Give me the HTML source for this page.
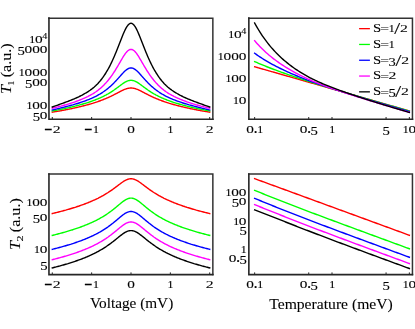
<!DOCTYPE html>
<html><head><meta charset="utf-8"><title>T1 T2</title>
<style>html,body{margin:0;padding:0;background:#fff;}svg{display:block;}</style></head>
<body>
<svg width="415" height="329" viewBox="0 0 415 329">
<rect width="415" height="329" fill="#fff"/>
<g font-family="Liberation Serif, serif" fill="#000" stroke="#000" stroke-width="0.1" opacity="0.999">
<text transform="matrix(1.1605 0 0 1.8071 44.33 136.66)" font-size="12.5">−</text><text transform="matrix(1.2597 0 0 0.8307 52.73 132.50)" font-size="12.5">2</text>
<text transform="matrix(1.1605 0 0 1.8071 84.37 136.66)" font-size="12.5">−</text><text transform="matrix(1.0226 0 0 0.8104 92.84 132.50)" font-size="12.5">1</text>
<text transform="matrix(1.2269 0 0 0.8669 127.17 132.52)" font-size="12.5">0</text>
<text transform="matrix(1.0226 0 0 0.8104 167.23 132.50)" font-size="12.5">1</text>
<text transform="matrix(1.2597 0 0 0.8307 205.82 132.50)" font-size="12.5">2</text>
<text transform="matrix(1.0226 0 0 0.8104 29.12 42.74)" font-size="12.5">1</text><text transform="matrix(1.2269 0 0 0.8669 35.09 42.76)" font-size="12.5">0</text>
<text transform="matrix(1.1509 0 0 1.0179 42.32 39.33)" font-size="8.8">4</text>
<text transform="matrix(1.1792 0 0 1.0082 17.48 54.66)" font-size="12.5">5</text><text transform="matrix(1.2269 0 0 0.8669 24.50 52.67)" font-size="12.5">0</text><text transform="matrix(1.2269 0 0 0.8669 32.13 52.67)" font-size="12.5">0</text><text transform="matrix(1.2269 0 0 0.8669 39.75 52.67)" font-size="12.5">0</text>
<text transform="matrix(1.0226 0 0 0.8104 18.53 75.69)" font-size="12.5">1</text><text transform="matrix(1.2269 0 0 0.8669 24.50 75.71)" font-size="12.5">0</text><text transform="matrix(1.2269 0 0 0.8669 32.13 75.71)" font-size="12.5">0</text><text transform="matrix(1.2269 0 0 0.8669 39.75 75.71)" font-size="12.5">0</text>
<text transform="matrix(1.1792 0 0 1.0082 25.11 87.61)" font-size="12.5">5</text><text transform="matrix(1.2269 0 0 0.8669 32.13 85.62)" font-size="12.5">0</text><text transform="matrix(1.2269 0 0 0.8669 39.75 85.62)" font-size="12.5">0</text>
<text transform="matrix(1.0226 0 0 0.8104 26.15 108.64)" font-size="12.5">1</text><text transform="matrix(1.2269 0 0 0.8669 32.13 108.66)" font-size="12.5">0</text><text transform="matrix(1.2269 0 0 0.8669 39.75 108.66)" font-size="12.5">0</text>
<text transform="matrix(1.1792 0 0 1.0082 32.73 120.56)" font-size="12.5">5</text><text transform="matrix(1.2269 0 0 0.8669 39.75 118.57)" font-size="12.5">0</text>
<text transform="matrix(1.2269 0 0 0.8669 246.25 132.52)" font-size="12.5">0</text><text transform="matrix(1.3540 0 0 1.3540 253.47 132.57)" font-size="12.5">.</text><text transform="matrix(1.0226 0 0 0.8104 257.03 132.50)" font-size="12.5">1</text>
<text transform="matrix(1.2269 0 0 0.8669 299.82 132.52)" font-size="12.5">0</text><text transform="matrix(1.3540 0 0 1.3540 307.04 132.57)" font-size="12.5">.</text><text transform="matrix(1.1792 0 0 1.0082 310.55 134.50)" font-size="12.5">5</text>
<text transform="matrix(1.0226 0 0 0.8104 328.88 132.50)" font-size="12.5">1</text>
<text transform="matrix(1.1792 0 0 1.0082 382.40 134.50)" font-size="12.5">5</text>
<text transform="matrix(1.0226 0 0 0.8104 402.41 132.50)" font-size="12.5">1</text><text transform="matrix(1.2269 0 0 0.8669 408.39 132.52)" font-size="12.5">0</text>
<text transform="matrix(1.0226 0 0 0.8104 228.12 37.70)" font-size="12.5">1</text><text transform="matrix(1.2269 0 0 0.8669 234.09 37.72)" font-size="12.5">0</text>
<text transform="matrix(1.1509 0 0 1.0179 241.32 34.29)" font-size="8.8">4</text>
<text transform="matrix(1.0226 0 0 0.8104 217.53 59.78)" font-size="12.5">1</text><text transform="matrix(1.2269 0 0 0.8669 223.50 59.80)" font-size="12.5">0</text><text transform="matrix(1.2269 0 0 0.8669 231.13 59.80)" font-size="12.5">0</text><text transform="matrix(1.2269 0 0 0.8669 238.75 59.80)" font-size="12.5">0</text>
<text transform="matrix(1.0226 0 0 0.8104 225.15 81.86)" font-size="12.5">1</text><text transform="matrix(1.2269 0 0 0.8669 231.13 81.88)" font-size="12.5">0</text><text transform="matrix(1.2269 0 0 0.8669 238.75 81.88)" font-size="12.5">0</text>
<text transform="matrix(1.0226 0 0 0.8104 232.78 103.94)" font-size="12.5">1</text><text transform="matrix(1.2269 0 0 0.8669 238.75 103.96)" font-size="12.5">0</text>
<text transform="matrix(1.1605 0 0 1.8071 44.33 292.06)" font-size="12.5">−</text><text transform="matrix(1.2597 0 0 0.8307 52.73 287.90)" font-size="12.5">2</text>
<text transform="matrix(1.1605 0 0 1.8071 84.37 292.06)" font-size="12.5">−</text><text transform="matrix(1.0226 0 0 0.8104 92.84 287.90)" font-size="12.5">1</text>
<text transform="matrix(1.2269 0 0 0.8669 127.17 287.92)" font-size="12.5">0</text>
<text transform="matrix(1.0226 0 0 0.8104 167.23 287.90)" font-size="12.5">1</text>
<text transform="matrix(1.2597 0 0 0.8307 205.82 287.90)" font-size="12.5">2</text>
<text transform="matrix(1.0226 0 0 0.8104 26.15 206.34)" font-size="12.5">1</text><text transform="matrix(1.2269 0 0 0.8669 32.13 206.36)" font-size="12.5">0</text><text transform="matrix(1.2269 0 0 0.8669 39.75 206.36)" font-size="12.5">0</text>
<text transform="matrix(1.1792 0 0 1.0082 32.73 222.52)" font-size="12.5">5</text><text transform="matrix(1.2269 0 0 0.8669 39.75 220.53)" font-size="12.5">0</text>
<text transform="matrix(1.0226 0 0 0.8104 33.78 253.44)" font-size="12.5">1</text><text transform="matrix(1.2269 0 0 0.8669 39.75 253.46)" font-size="12.5">0</text>
<text transform="matrix(1.1792 0 0 1.0082 40.36 269.62)" font-size="12.5">5</text>
<text transform="matrix(1.2269 0 0 0.8669 246.25 287.92)" font-size="12.5">0</text><text transform="matrix(1.3540 0 0 1.3540 253.47 287.97)" font-size="12.5">.</text><text transform="matrix(1.0226 0 0 0.8104 257.03 287.90)" font-size="12.5">1</text>
<text transform="matrix(1.2269 0 0 0.8669 299.82 287.92)" font-size="12.5">0</text><text transform="matrix(1.3540 0 0 1.3540 307.04 287.97)" font-size="12.5">.</text><text transform="matrix(1.1792 0 0 1.0082 310.55 289.90)" font-size="12.5">5</text>
<text transform="matrix(1.0226 0 0 0.8104 328.88 287.90)" font-size="12.5">1</text>
<text transform="matrix(1.1792 0 0 1.0082 382.40 289.90)" font-size="12.5">5</text>
<text transform="matrix(1.0226 0 0 0.8104 402.41 287.90)" font-size="12.5">1</text><text transform="matrix(1.2269 0 0 0.8669 408.39 287.92)" font-size="12.5">0</text>
<text transform="matrix(1.0226 0 0 0.8104 225.25 196.44)" font-size="12.5">1</text><text transform="matrix(1.2269 0 0 0.8669 231.23 196.46)" font-size="12.5">0</text><text transform="matrix(1.2269 0 0 0.8669 238.85 196.46)" font-size="12.5">0</text>
<text transform="matrix(1.1792 0 0 1.0082 231.83 206.99)" font-size="12.5">5</text><text transform="matrix(1.2269 0 0 0.8669 238.85 205.01)" font-size="12.5">0</text>
<text transform="matrix(1.0226 0 0 0.8104 232.88 224.84)" font-size="12.5">1</text><text transform="matrix(1.2269 0 0 0.8669 238.85 224.86)" font-size="12.5">0</text>
<text transform="matrix(1.1792 0 0 1.0082 239.46 235.39)" font-size="12.5">5</text>
<text transform="matrix(1.0226 0 0 0.8104 240.50 253.24)" font-size="12.5">1</text>
<text transform="matrix(1.2269 0 0 0.8669 228.73 261.81)" font-size="12.5">0</text><text transform="matrix(1.3540 0 0 1.3540 235.95 261.86)" font-size="12.5">.</text><text transform="matrix(1.1792 0 0 1.0082 239.46 263.79)" font-size="12.5">5</text>
<text transform="matrix(1.1796 0 0 1.0567 373.09 32.05)" font-size="12.5">S</text><text transform="matrix(1.2529 0 0 0.8800 380.31 32.45)" font-size="12.5">=</text><text transform="matrix(1.0226 0 0 0.8104 388.50 32.05)" font-size="12.5">1</text><text transform="matrix(1.6881 0 0 1.3902 394.25 34.26)" font-size="12.5">/</text><text transform="matrix(1.2597 0 0 0.8307 400.05 32.05)" font-size="12.5">2</text>
<text transform="matrix(1.1796 0 0 1.0567 373.09 47.85)" font-size="12.5">S</text><text transform="matrix(1.2529 0 0 0.8800 380.31 48.25)" font-size="12.5">=</text><text transform="matrix(1.0226 0 0 0.8104 388.50 47.85)" font-size="12.5">1</text>
<text transform="matrix(1.1796 0 0 1.0567 373.09 63.65)" font-size="12.5">S</text><text transform="matrix(1.2529 0 0 0.8800 380.31 64.05)" font-size="12.5">=</text><text transform="matrix(1.1620 0 0 0.9972 388.55 65.65)" font-size="12.5">3</text><text transform="matrix(1.6881 0 0 1.3902 395.50 65.86)" font-size="12.5">/</text><text transform="matrix(1.2597 0 0 0.8307 401.30 63.65)" font-size="12.5">2</text>
<text transform="matrix(1.1796 0 0 1.0567 373.09 79.45)" font-size="12.5">S</text><text transform="matrix(1.2529 0 0 0.8800 380.31 79.85)" font-size="12.5">=</text><text transform="matrix(1.2597 0 0 0.8307 388.43 79.45)" font-size="12.5">2</text>
<text transform="matrix(1.1796 0 0 1.0567 373.09 95.25)" font-size="12.5">S</text><text transform="matrix(1.2529 0 0 0.8800 380.31 95.65)" font-size="12.5">=</text><text transform="matrix(1.1792 0 0 1.0082 388.46 97.25)" font-size="12.5">5</text><text transform="matrix(1.6881 0 0 1.3902 395.25 97.46)" font-size="12.5">/</text><text transform="matrix(1.2597 0 0 0.8307 401.05 95.25)" font-size="12.5">2</text>
<g transform="translate(10.8 94) rotate(-90)">
<text transform="scale(1.045 1)" font-size="15.4" font-style="italic">T</text>
<text transform="matrix(1.0226 0 0 0.8104 8.56 3.10)" font-size="9.6">1</text>
<text transform="translate(16.76 0) scale(1.045 1)" font-size="15.4">(a.u.)</text>
</g>
<g transform="translate(19.5 250) rotate(-90)">
<text transform="scale(1.045 1)" font-size="15.4" font-style="italic">T</text>
<text transform="matrix(1.2597 0 0 0.8307 8.50 3.10)" font-size="9.6">2</text>
<text transform="translate(17.82 0) scale(1.045 1)" font-size="15.4">(a.u.)</text>
</g>
<text transform="translate(131.6 308.4) scale(0.992 1)" font-size="15.4" text-anchor="middle">Voltage (mV)</text>
<text transform="translate(331 308.5) scale(1.017 1)" font-size="15.4" text-anchor="middle">Temperature (meV)</text>
</g>
<g>
<clipPath id="cp1"><rect x="48.95" y="18.15" width="163.9" height="101.05"/></clipPath>
<g clip-path="url(#cp1)" fill="none" stroke-width="1.4" stroke-linejoin="round" stroke-linecap="square">
<path d="M52.30 112.19 L53.09 112.06 L53.87 111.93 L54.66 111.80 L55.45 111.66 L56.23 111.53 L57.02 111.39 L57.81 111.26 L58.60 111.12 L59.38 110.98 L60.17 110.84 L60.96 110.69 L61.74 110.55 L62.53 110.40 L63.32 110.26 L64.11 110.11 L64.89 109.96 L65.68 109.81 L66.47 109.65 L67.25 109.50 L68.04 109.34 L68.83 109.18 L69.61 109.02 L70.40 108.86 L71.19 108.70 L71.97 108.53 L72.76 108.36 L73.55 108.19 L74.34 108.02 L75.12 107.84 L75.91 107.67 L76.70 107.49 L77.48 107.31 L78.27 107.13 L79.06 106.94 L79.84 106.75 L80.63 106.56 L81.42 106.37 L82.21 106.17 L82.99 105.97 L83.78 105.77 L84.57 105.57 L85.35 105.36 L86.14 105.15 L86.93 104.94 L87.72 104.72 L88.50 104.50 L89.29 104.28 L90.08 104.05 L90.86 103.82 L91.65 103.58 L92.44 103.35 L93.22 103.10 L94.01 102.86 L94.80 102.61 L95.59 102.35 L96.37 102.09 L97.16 101.83 L97.95 101.56 L98.73 101.28 L99.52 101.00 L100.31 100.72 L101.09 100.43 L101.88 100.13 L102.67 99.83 L103.45 99.52 L104.24 99.20 L105.03 98.88 L105.82 98.55 L106.60 98.22 L107.39 97.88 L108.18 97.53 L108.96 97.17 L109.75 96.81 L110.54 96.44 L111.33 96.07 L112.11 95.68 L112.90 95.29 L113.69 94.90 L114.47 94.49 L115.26 94.09 L116.05 93.68 L116.83 93.26 L117.62 92.85 L118.41 92.43 L119.19 92.02 L119.98 91.60 L120.77 91.20 L121.56 90.80 L122.34 90.42 L123.13 90.05 L123.92 89.69 L124.70 89.37 L125.49 89.06 L126.28 88.79 L127.07 88.55 L127.85 88.35 L128.64 88.19 L129.43 88.08 L130.21 88.00 L131.00 87.98 L131.79 88.00 L132.57 88.08 L133.36 88.19 L134.15 88.35 L134.94 88.55 L135.72 88.79 L136.51 89.06 L137.30 89.37 L138.08 89.69 L138.87 90.05 L139.66 90.42 L140.44 90.80 L141.23 91.20 L142.02 91.60 L142.81 92.02 L143.59 92.43 L144.38 92.85 L145.17 93.26 L145.95 93.68 L146.74 94.09 L147.53 94.49 L148.31 94.90 L149.10 95.29 L149.89 95.68 L150.68 96.07 L151.46 96.44 L152.25 96.81 L153.04 97.17 L153.82 97.53 L154.61 97.88 L155.40 98.22 L156.18 98.55 L156.97 98.88 L157.76 99.20 L158.55 99.52 L159.33 99.83 L160.12 100.13 L160.91 100.43 L161.69 100.72 L162.48 101.00 L163.27 101.28 L164.05 101.56 L164.84 101.83 L165.63 102.09 L166.41 102.35 L167.20 102.61 L167.99 102.86 L168.78 103.10 L169.56 103.35 L170.35 103.58 L171.14 103.82 L171.92 104.05 L172.71 104.28 L173.50 104.50 L174.28 104.72 L175.07 104.94 L175.86 105.15 L176.65 105.36 L177.43 105.57 L178.22 105.77 L179.01 105.97 L179.79 106.17 L180.58 106.37 L181.37 106.56 L182.16 106.75 L182.94 106.94 L183.73 107.13 L184.52 107.31 L185.30 107.49 L186.09 107.67 L186.88 107.84 L187.66 108.02 L188.45 108.19 L189.24 108.36 L190.03 108.53 L190.81 108.70 L191.60 108.86 L192.39 109.02 L193.17 109.18 L193.96 109.34 L194.75 109.50 L195.53 109.65 L196.32 109.81 L197.11 109.96 L197.90 110.11 L198.68 110.26 L199.47 110.40 L200.26 110.55 L201.04 110.69 L201.83 110.84 L202.62 110.98 L203.40 111.12 L204.19 111.26 L204.98 111.39 L205.76 111.53 L206.55 111.66 L207.34 111.80 L208.13 111.93 L208.91 112.06 L209.70 112.19" stroke="#ff0000"/>
<path d="M52.30 110.95 L53.09 110.81 L53.87 110.67 L54.66 110.52 L55.45 110.38 L56.23 110.23 L57.02 110.08 L57.81 109.93 L58.60 109.78 L59.38 109.63 L60.17 109.47 L60.96 109.31 L61.74 109.15 L62.53 108.99 L63.32 108.83 L64.11 108.67 L64.89 108.50 L65.68 108.33 L66.47 108.16 L67.25 107.99 L68.04 107.81 L68.83 107.64 L69.61 107.46 L70.40 107.28 L71.19 107.09 L71.97 106.91 L72.76 106.72 L73.55 106.53 L74.34 106.33 L75.12 106.14 L75.91 105.94 L76.70 105.74 L77.48 105.53 L78.27 105.32 L79.06 105.11 L79.84 104.90 L80.63 104.68 L81.42 104.46 L82.21 104.24 L82.99 104.01 L83.78 103.78 L84.57 103.54 L85.35 103.30 L86.14 103.06 L86.93 102.81 L87.72 102.56 L88.50 102.30 L89.29 102.04 L90.08 101.77 L90.86 101.50 L91.65 101.23 L92.44 100.94 L93.22 100.66 L94.01 100.36 L94.80 100.06 L95.59 99.76 L96.37 99.45 L97.16 99.13 L97.95 98.80 L98.73 98.47 L99.52 98.13 L100.31 97.78 L101.09 97.42 L101.88 97.05 L102.67 96.68 L103.45 96.29 L104.24 95.90 L105.03 95.49 L105.82 95.08 L106.60 94.65 L107.39 94.21 L108.18 93.77 L108.96 93.31 L109.75 92.83 L110.54 92.35 L111.33 91.85 L112.11 91.34 L112.90 90.82 L113.69 90.29 L114.47 89.74 L115.26 89.19 L116.05 88.62 L116.83 88.05 L117.62 87.47 L118.41 86.88 L119.19 86.29 L119.98 85.70 L120.77 85.12 L121.56 84.54 L122.34 83.98 L123.13 83.43 L123.92 82.91 L124.70 82.41 L125.49 81.95 L126.28 81.54 L127.07 81.17 L127.85 80.87 L128.64 80.62 L129.43 80.44 L130.21 80.33 L131.00 80.29 L131.79 80.33 L132.57 80.44 L133.36 80.62 L134.15 80.87 L134.94 81.17 L135.72 81.54 L136.51 81.95 L137.30 82.41 L138.08 82.91 L138.87 83.43 L139.66 83.98 L140.44 84.54 L141.23 85.12 L142.02 85.70 L142.81 86.29 L143.59 86.88 L144.38 87.47 L145.17 88.05 L145.95 88.62 L146.74 89.19 L147.53 89.74 L148.31 90.29 L149.10 90.82 L149.89 91.34 L150.68 91.85 L151.46 92.35 L152.25 92.83 L153.04 93.31 L153.82 93.77 L154.61 94.21 L155.40 94.65 L156.18 95.08 L156.97 95.49 L157.76 95.90 L158.55 96.29 L159.33 96.68 L160.12 97.05 L160.91 97.42 L161.69 97.78 L162.48 98.13 L163.27 98.47 L164.05 98.80 L164.84 99.13 L165.63 99.45 L166.41 99.76 L167.20 100.06 L167.99 100.36 L168.78 100.66 L169.56 100.94 L170.35 101.23 L171.14 101.50 L171.92 101.77 L172.71 102.04 L173.50 102.30 L174.28 102.56 L175.07 102.81 L175.86 103.06 L176.65 103.30 L177.43 103.54 L178.22 103.78 L179.01 104.01 L179.79 104.24 L180.58 104.46 L181.37 104.68 L182.16 104.90 L182.94 105.11 L183.73 105.32 L184.52 105.53 L185.30 105.74 L186.09 105.94 L186.88 106.14 L187.66 106.33 L188.45 106.53 L189.24 106.72 L190.03 106.91 L190.81 107.09 L191.60 107.28 L192.39 107.46 L193.17 107.64 L193.96 107.81 L194.75 107.99 L195.53 108.16 L196.32 108.33 L197.11 108.50 L197.90 108.67 L198.68 108.83 L199.47 108.99 L200.26 109.15 L201.04 109.31 L201.83 109.47 L202.62 109.63 L203.40 109.78 L204.19 109.93 L204.98 110.08 L205.76 110.23 L206.55 110.38 L207.34 110.52 L208.13 110.67 L208.91 110.81 L209.70 110.95" stroke="#00ff00"/>
<path d="M52.30 109.99 L53.09 109.81 L53.87 109.62 L54.66 109.44 L55.45 109.25 L56.23 109.07 L57.02 108.88 L57.81 108.69 L58.60 108.50 L59.38 108.31 L60.17 108.12 L60.96 107.93 L61.74 107.74 L62.53 107.54 L63.32 107.35 L64.11 107.15 L64.89 106.95 L65.68 106.75 L66.47 106.54 L67.25 106.34 L68.04 106.13 L68.83 105.93 L69.61 105.72 L70.40 105.50 L71.19 105.29 L71.97 105.07 L72.76 104.86 L73.55 104.63 L74.34 104.41 L75.12 104.18 L75.91 103.95 L76.70 103.71 L77.48 103.47 L78.27 103.22 L79.06 102.97 L79.84 102.72 L80.63 102.46 L81.42 102.20 L82.21 101.93 L82.99 101.66 L83.78 101.38 L84.57 101.10 L85.35 100.81 L86.14 100.52 L86.93 100.22 L87.72 99.91 L88.50 99.60 L89.29 99.28 L90.08 98.95 L90.86 98.62 L91.65 98.28 L92.44 97.93 L93.22 97.57 L94.01 97.19 L94.80 96.81 L95.59 96.42 L96.37 96.01 L97.16 95.59 L97.95 95.16 L98.73 94.72 L99.52 94.26 L100.31 93.79 L101.09 93.30 L101.88 92.80 L102.67 92.29 L103.45 91.76 L104.24 91.21 L105.03 90.65 L105.82 90.07 L106.60 89.47 L107.39 88.85 L108.18 88.21 L108.96 87.55 L109.75 86.88 L110.54 86.18 L111.33 85.46 L112.11 84.72 L112.90 83.96 L113.69 83.18 L114.47 82.38 L115.26 81.56 L116.05 80.72 L116.83 79.86 L117.62 78.99 L118.41 78.11 L119.19 77.23 L119.98 76.34 L120.77 75.45 L121.56 74.57 L122.34 73.70 L123.13 72.86 L123.92 72.05 L124.70 71.28 L125.49 70.57 L126.28 69.92 L127.07 69.35 L127.85 68.86 L128.64 68.47 L129.43 68.19 L130.21 68.01 L131.00 67.95 L131.79 68.01 L132.57 68.19 L133.36 68.47 L134.15 68.86 L134.94 69.35 L135.72 69.92 L136.51 70.57 L137.30 71.28 L138.08 72.05 L138.87 72.86 L139.66 73.70 L140.44 74.57 L141.23 75.45 L142.02 76.34 L142.81 77.23 L143.59 78.11 L144.38 78.99 L145.17 79.86 L145.95 80.72 L146.74 81.56 L147.53 82.38 L148.31 83.18 L149.10 83.96 L149.89 84.72 L150.68 85.46 L151.46 86.18 L152.25 86.88 L153.04 87.55 L153.82 88.21 L154.61 88.85 L155.40 89.47 L156.18 90.07 L156.97 90.65 L157.76 91.21 L158.55 91.76 L159.33 92.29 L160.12 92.80 L160.91 93.30 L161.69 93.79 L162.48 94.26 L163.27 94.72 L164.05 95.16 L164.84 95.59 L165.63 96.01 L166.41 96.42 L167.20 96.81 L167.99 97.19 L168.78 97.57 L169.56 97.93 L170.35 98.28 L171.14 98.62 L171.92 98.95 L172.71 99.28 L173.50 99.60 L174.28 99.91 L175.07 100.22 L175.86 100.52 L176.65 100.81 L177.43 101.10 L178.22 101.38 L179.01 101.66 L179.79 101.93 L180.58 102.20 L181.37 102.46 L182.16 102.72 L182.94 102.97 L183.73 103.22 L184.52 103.47 L185.30 103.71 L186.09 103.95 L186.88 104.18 L187.66 104.41 L188.45 104.63 L189.24 104.86 L190.03 105.07 L190.81 105.29 L191.60 105.50 L192.39 105.72 L193.17 105.93 L193.96 106.13 L194.75 106.34 L195.53 106.54 L196.32 106.75 L197.11 106.95 L197.90 107.15 L198.68 107.35 L199.47 107.54 L200.26 107.74 L201.04 107.93 L201.83 108.12 L202.62 108.31 L203.40 108.50 L204.19 108.69 L204.98 108.88 L205.76 109.07 L206.55 109.25 L207.34 109.44 L208.13 109.62 L208.91 109.81 L209.70 109.99" stroke="#0000ff"/>
<path d="M52.30 108.25 L53.09 108.07 L53.87 107.89 L54.66 107.70 L55.45 107.51 L56.23 107.32 L57.02 107.13 L57.81 106.93 L58.60 106.73 L59.38 106.53 L60.17 106.32 L60.96 106.12 L61.74 105.90 L62.53 105.69 L63.32 105.47 L64.11 105.25 L64.89 105.03 L65.68 104.81 L66.47 104.58 L67.25 104.34 L68.04 104.10 L68.83 103.86 L69.61 103.62 L70.40 103.37 L71.19 103.12 L71.97 102.86 L72.76 102.60 L73.55 102.33 L74.34 102.06 L75.12 101.79 L75.91 101.51 L76.70 101.22 L77.48 100.93 L78.27 100.63 L79.06 100.33 L79.84 100.02 L80.63 99.71 L81.42 99.38 L82.21 99.05 L82.99 98.72 L83.78 98.38 L84.57 98.03 L85.35 97.67 L86.14 97.30 L86.93 96.92 L87.72 96.54 L88.50 96.14 L89.29 95.74 L90.08 95.32 L90.86 94.90 L91.65 94.46 L92.44 94.01 L93.22 93.54 L94.01 93.04 L94.80 92.53 L95.59 92.00 L96.37 91.45 L97.16 90.87 L97.95 90.28 L98.73 89.66 L99.52 89.02 L100.31 88.36 L101.09 87.67 L101.88 86.96 L102.67 86.22 L103.45 85.46 L104.24 84.67 L105.03 83.85 L105.82 83.00 L106.60 82.12 L107.39 81.21 L108.18 80.27 L108.96 79.29 L109.75 78.28 L110.54 77.24 L111.33 76.16 L112.11 75.05 L112.90 73.90 L113.69 72.72 L114.47 71.50 L115.26 70.26 L116.05 68.98 L116.83 67.68 L117.62 66.36 L118.41 65.01 L119.19 63.66 L119.98 62.30 L120.77 60.94 L121.56 59.59 L122.34 58.26 L123.13 56.97 L123.92 55.72 L124.70 54.53 L125.49 53.43 L126.28 52.43 L127.07 51.55 L127.85 50.79 L128.64 50.19 L129.43 49.75 L130.21 49.48 L131.00 49.39 L131.79 49.48 L132.57 49.75 L133.36 50.19 L134.15 50.79 L134.94 51.55 L135.72 52.43 L136.51 53.43 L137.30 54.53 L138.08 55.72 L138.87 56.97 L139.66 58.26 L140.44 59.59 L141.23 60.94 L142.02 62.30 L142.81 63.66 L143.59 65.01 L144.38 66.36 L145.17 67.68 L145.95 68.98 L146.74 70.26 L147.53 71.50 L148.31 72.72 L149.10 73.90 L149.89 75.05 L150.68 76.16 L151.46 77.24 L152.25 78.28 L153.04 79.29 L153.82 80.27 L154.61 81.21 L155.40 82.12 L156.18 83.00 L156.97 83.85 L157.76 84.67 L158.55 85.46 L159.33 86.22 L160.12 86.96 L160.91 87.67 L161.69 88.36 L162.48 89.02 L163.27 89.66 L164.05 90.28 L164.84 90.87 L165.63 91.45 L166.41 92.00 L167.20 92.53 L167.99 93.04 L168.78 93.54 L169.56 94.01 L170.35 94.46 L171.14 94.90 L171.92 95.32 L172.71 95.74 L173.50 96.14 L174.28 96.54 L175.07 96.92 L175.86 97.30 L176.65 97.67 L177.43 98.03 L178.22 98.38 L179.01 98.72 L179.79 99.05 L180.58 99.38 L181.37 99.71 L182.16 100.02 L182.94 100.33 L183.73 100.63 L184.52 100.93 L185.30 101.22 L186.09 101.51 L186.88 101.79 L187.66 102.06 L188.45 102.33 L189.24 102.60 L190.03 102.86 L190.81 103.12 L191.60 103.37 L192.39 103.62 L193.17 103.86 L193.96 104.10 L194.75 104.34 L195.53 104.58 L196.32 104.81 L197.11 105.03 L197.90 105.25 L198.68 105.47 L199.47 105.69 L200.26 105.90 L201.04 106.12 L201.83 106.32 L202.62 106.53 L203.40 106.73 L204.19 106.93 L204.98 107.13 L205.76 107.32 L206.55 107.51 L207.34 107.70 L208.13 107.89 L208.91 108.07 L209.70 108.25" stroke="#ff00ff"/>
<path d="M52.30 107.00 L53.09 106.72 L53.87 106.44 L54.66 106.17 L55.45 105.89 L56.23 105.61 L57.02 105.33 L57.81 105.05 L58.60 104.77 L59.38 104.49 L60.17 104.21 L60.96 103.93 L61.74 103.64 L62.53 103.36 L63.32 103.07 L64.11 102.78 L64.89 102.49 L65.68 102.19 L66.47 101.90 L67.25 101.60 L68.04 101.30 L68.83 101.00 L69.61 100.69 L70.40 100.39 L71.19 100.07 L71.97 99.76 L72.76 99.44 L73.55 99.11 L74.34 98.78 L75.12 98.44 L75.91 98.10 L76.70 97.74 L77.48 97.38 L78.27 97.01 L79.06 96.64 L79.84 96.25 L80.63 95.86 L81.42 95.45 L82.21 95.04 L82.99 94.61 L83.78 94.18 L84.57 93.73 L85.35 93.27 L86.14 92.80 L86.93 92.32 L87.72 91.82 L88.50 91.31 L89.29 90.78 L90.08 90.24 L90.86 89.68 L91.65 89.10 L92.44 88.50 L93.22 87.87 L94.01 87.21 L94.80 86.51 L95.59 85.79 L96.37 85.03 L97.16 84.24 L97.95 83.41 L98.73 82.55 L99.52 81.65 L100.31 80.72 L101.09 79.74 L101.88 78.73 L102.67 77.67 L103.45 76.57 L104.24 75.43 L105.03 74.24 L105.82 73.00 L106.60 71.71 L107.39 70.38 L108.18 68.99 L108.96 67.55 L109.75 66.05 L110.54 64.50 L111.33 62.90 L112.11 61.24 L112.90 59.53 L113.69 57.76 L114.47 55.95 L115.26 54.08 L116.05 52.18 L116.83 50.23 L117.62 48.26 L118.41 46.26 L119.19 44.25 L119.98 42.24 L120.77 40.22 L121.56 38.22 L122.34 36.26 L123.13 34.35 L123.92 32.51 L124.70 30.77 L125.49 29.16 L126.28 27.69 L127.07 26.40 L127.85 25.30 L128.64 24.42 L129.43 23.78 L130.21 23.39 L131.00 23.25 L131.79 23.39 L132.57 23.78 L133.36 24.42 L134.15 25.30 L134.94 26.40 L135.72 27.69 L136.51 29.16 L137.30 30.77 L138.08 32.51 L138.87 34.35 L139.66 36.26 L140.44 38.22 L141.23 40.22 L142.02 42.24 L142.81 44.25 L143.59 46.26 L144.38 48.26 L145.17 50.23 L145.95 52.18 L146.74 54.08 L147.53 55.95 L148.31 57.76 L149.10 59.53 L149.89 61.24 L150.68 62.90 L151.46 64.50 L152.25 66.05 L153.04 67.55 L153.82 68.99 L154.61 70.38 L155.40 71.71 L156.18 73.00 L156.97 74.24 L157.76 75.43 L158.55 76.57 L159.33 77.67 L160.12 78.73 L160.91 79.74 L161.69 80.72 L162.48 81.65 L163.27 82.55 L164.05 83.41 L164.84 84.24 L165.63 85.03 L166.41 85.79 L167.20 86.51 L167.99 87.21 L168.78 87.87 L169.56 88.50 L170.35 89.10 L171.14 89.68 L171.92 90.24 L172.71 90.78 L173.50 91.31 L174.28 91.82 L175.07 92.32 L175.86 92.80 L176.65 93.27 L177.43 93.73 L178.22 94.18 L179.01 94.61 L179.79 95.04 L180.58 95.45 L181.37 95.86 L182.16 96.25 L182.94 96.64 L183.73 97.01 L184.52 97.38 L185.30 97.74 L186.09 98.10 L186.88 98.44 L187.66 98.78 L188.45 99.11 L189.24 99.44 L190.03 99.76 L190.81 100.07 L191.60 100.39 L192.39 100.69 L193.17 101.00 L193.96 101.30 L194.75 101.60 L195.53 101.90 L196.32 102.19 L197.11 102.49 L197.90 102.78 L198.68 103.07 L199.47 103.36 L200.26 103.64 L201.04 103.93 L201.83 104.21 L202.62 104.49 L203.40 104.77 L204.19 105.05 L204.98 105.33 L205.76 105.61 L206.55 105.89 L207.34 106.17 L208.13 106.44 L208.91 106.72 L209.70 107.00" stroke="#000000"/>
</g>
<path d="M48.95 18.15 H212.85 V119.2" fill="none" stroke="#333" stroke-width="1.5" stroke-linecap="square"/>
<path d="M48.95 18.15 V119.2 H212.85" fill="none" stroke="#262626" stroke-width="1.6" stroke-linecap="square"/>
<path d="M52.30 119.2 v-2.2" stroke="#262626" stroke-width="1"/>
<path d="M91.65 119.2 v-2.2" stroke="#262626" stroke-width="1"/>
<path d="M131.00 119.2 v-2.2" stroke="#262626" stroke-width="1"/>
<path d="M170.35 119.2 v-2.2" stroke="#262626" stroke-width="1"/>
<path d="M209.70 119.2 v-2.2" stroke="#262626" stroke-width="1"/>
</g>
<g>
<clipPath id="cp2"><rect x="248.85" y="18.15" width="163.6" height="101.05"/></clipPath>
<g clip-path="url(#cp2)" fill="none" stroke-width="1.4" stroke-linejoin="round" stroke-linecap="square">
<path d="M254.65 66.76 L255.94 67.13 L257.23 67.49 L258.52 67.86 L259.81 68.23 L261.10 68.60 L262.38 68.97 L263.67 69.34 L264.96 69.70 L266.25 70.07 L267.54 70.44 L268.83 70.81 L270.12 71.18 L271.41 71.55 L272.70 71.91 L273.99 72.28 L275.28 72.65 L276.57 73.02 L277.86 73.39 L279.14 73.76 L280.43 74.12 L281.72 74.49 L283.01 74.86 L284.30 75.23 L285.59 75.60 L286.88 75.97 L288.17 76.33 L289.46 76.70 L290.75 77.07 L292.04 77.44 L293.32 77.81 L294.61 78.18 L295.90 78.54 L297.19 78.91 L298.48 79.28 L299.77 79.65 L301.06 80.02 L302.35 80.39 L303.64 80.75 L304.93 81.12 L306.22 81.49 L307.51 81.86 L308.80 82.23 L310.08 82.60 L311.37 82.96 L312.66 83.33 L313.95 83.70 L315.24 84.07 L316.53 84.44 L317.82 84.81 L319.11 85.17 L320.40 85.54 L321.69 85.91 L322.98 86.28 L324.26 86.65 L325.55 87.02 L326.84 87.38 L328.13 87.75 L329.42 88.12 L330.71 88.49 L332.00 88.86 L333.29 89.23 L334.58 89.59 L335.87 89.96 L337.16 90.33 L338.45 90.70 L339.74 91.07 L341.02 91.44 L342.31 91.80 L343.60 92.17 L344.89 92.54 L346.18 92.91 L347.47 93.28 L348.76 93.65 L350.05 94.01 L351.34 94.38 L352.63 94.75 L353.92 95.12 L355.20 95.49 L356.49 95.86 L357.78 96.22 L359.07 96.59 L360.36 96.96 L361.65 97.33 L362.94 97.70 L364.23 98.07 L365.52 98.43 L366.81 98.80 L368.10 99.17 L369.39 99.54 L370.68 99.91 L371.96 100.28 L373.25 100.64 L374.54 101.01 L375.83 101.38 L377.12 101.75 L378.41 102.12 L379.70 102.49 L380.99 102.85 L382.28 103.22 L383.57 103.59 L384.86 103.96 L386.14 104.33 L387.43 104.70 L388.72 105.06 L390.01 105.43 L391.30 105.80 L392.59 106.17 L393.88 106.54 L395.17 106.91 L396.46 107.27 L397.75 107.64 L399.04 108.01 L400.33 108.38 L401.62 108.75 L402.90 109.12 L404.19 109.48 L405.48 109.85 L406.77 110.22 L408.06 110.59 L409.35 110.96" stroke="#ff0000"/>
<path d="M254.65 61.56 L255.94 62.14 L257.23 62.71 L258.52 63.27 L259.81 63.82 L261.10 64.37 L262.38 64.91 L263.67 65.44 L264.96 65.96 L266.25 66.48 L267.54 66.99 L268.83 67.50 L270.12 68.00 L271.41 68.50 L272.70 68.99 L273.99 69.48 L275.28 69.96 L276.57 70.44 L277.86 70.92 L279.14 71.39 L280.43 71.86 L281.72 72.32 L283.01 72.78 L284.30 73.24 L285.59 73.69 L286.88 74.15 L288.17 74.59 L289.46 75.04 L290.75 75.48 L292.04 75.92 L293.32 76.36 L294.61 76.80 L295.90 77.23 L297.19 77.66 L298.48 78.09 L299.77 78.51 L301.06 78.94 L302.35 79.36 L303.64 79.78 L304.93 80.19 L306.22 80.61 L307.51 81.02 L308.80 81.43 L310.08 81.84 L311.37 82.25 L312.66 82.66 L313.95 83.06 L315.24 83.46 L316.53 83.87 L317.82 84.26 L319.11 84.66 L320.40 85.06 L321.69 85.45 L322.98 85.85 L324.26 86.24 L325.55 86.63 L326.84 87.02 L328.13 87.41 L329.42 87.80 L330.71 88.19 L332.00 88.57 L333.29 88.96 L334.58 89.35 L335.87 89.73 L337.16 90.12 L338.45 90.50 L339.74 90.88 L341.02 91.27 L342.31 91.65 L343.60 92.03 L344.89 92.41 L346.18 92.79 L347.47 93.17 L348.76 93.55 L350.05 93.93 L351.34 94.31 L352.63 94.69 L353.92 95.07 L355.20 95.45 L356.49 95.82 L357.78 96.20 L359.07 96.58 L360.36 96.95 L361.65 97.33 L362.94 97.71 L364.23 98.08 L365.52 98.46 L366.81 98.83 L368.10 99.21 L369.39 99.58 L370.68 99.96 L371.96 100.33 L373.25 100.70 L374.54 101.08 L375.83 101.45 L377.12 101.82 L378.41 102.20 L379.70 102.57 L380.99 102.94 L382.28 103.32 L383.57 103.69 L384.86 104.06 L386.14 104.43 L387.43 104.80 L388.72 105.18 L390.01 105.55 L391.30 105.92 L392.59 106.29 L393.88 106.66 L395.17 107.03 L396.46 107.40 L397.75 107.78 L399.04 108.15 L400.33 108.52 L401.62 108.89 L402.90 109.26 L404.19 109.63 L405.48 110.00 L406.77 110.37 L408.06 110.74 L409.35 111.11" stroke="#00ff00"/>
<path d="M254.65 53.22 L255.94 54.16 L257.23 55.08 L258.52 55.97 L259.81 56.84 L261.10 57.69 L262.38 58.51 L263.67 59.32 L264.96 60.11 L266.25 60.88 L267.54 61.64 L268.83 62.38 L270.12 63.11 L271.41 63.83 L272.70 64.53 L273.99 65.22 L275.28 65.90 L276.57 66.56 L277.86 67.22 L279.14 67.87 L280.43 68.50 L281.72 69.13 L283.01 69.74 L284.30 70.35 L285.59 70.95 L286.88 71.54 L288.17 72.13 L289.46 72.70 L290.75 73.27 L292.04 73.83 L293.32 74.39 L294.61 74.94 L295.90 75.48 L297.19 76.01 L298.48 76.54 L299.77 77.06 L301.06 77.58 L302.35 78.09 L303.64 78.60 L304.93 79.09 L306.22 79.59 L307.51 80.08 L308.80 80.56 L310.08 81.04 L311.37 81.51 L312.66 81.98 L313.95 82.44 L315.24 82.90 L316.53 83.35 L317.82 83.79 L319.11 84.24 L320.40 84.67 L321.69 85.11 L322.98 85.54 L324.26 85.96 L325.55 86.39 L326.84 86.81 L328.13 87.23 L329.42 87.65 L330.71 88.07 L332.00 88.48 L333.29 88.90 L334.58 89.31 L335.87 89.72 L337.16 90.13 L338.45 90.53 L339.74 90.94 L341.02 91.34 L342.31 91.75 L343.60 92.15 L344.89 92.55 L346.18 92.95 L347.47 93.34 L348.76 93.74 L350.05 94.13 L351.34 94.53 L352.63 94.92 L353.92 95.31 L355.20 95.71 L356.49 96.10 L357.78 96.49 L359.07 96.87 L360.36 97.26 L361.65 97.65 L362.94 98.04 L364.23 98.42 L365.52 98.81 L366.81 99.19 L368.10 99.58 L369.39 99.96 L370.68 100.34 L371.96 100.72 L373.25 101.11 L374.54 101.49 L375.83 101.87 L377.12 102.25 L378.41 102.63 L379.70 103.01 L380.99 103.39 L382.28 103.76 L383.57 104.14 L384.86 104.52 L386.14 104.90 L387.43 105.27 L388.72 105.65 L390.01 106.03 L391.30 106.40 L392.59 106.78 L393.88 107.16 L395.17 107.53 L396.46 107.91 L397.75 108.28 L399.04 108.65 L400.33 109.03 L401.62 109.40 L402.90 109.78 L404.19 110.15 L405.48 110.52 L406.77 110.90 L408.06 111.27 L409.35 111.64" stroke="#0000ff"/>
<path d="M254.65 40.68 L255.94 42.20 L257.23 43.67 L258.52 45.09 L259.81 46.46 L261.10 47.78 L262.38 49.06 L263.67 50.30 L264.96 51.51 L266.25 52.68 L267.54 53.82 L268.83 54.93 L270.12 56.01 L271.41 57.06 L272.70 58.09 L273.99 59.08 L275.28 60.06 L276.57 61.01 L277.86 61.94 L279.14 62.85 L280.43 63.74 L281.72 64.60 L283.01 65.45 L284.30 66.28 L285.59 67.10 L286.88 67.89 L288.17 68.68 L289.46 69.44 L290.75 70.19 L292.04 70.93 L293.32 71.65 L294.61 72.36 L295.90 73.06 L297.19 73.74 L298.48 74.41 L299.77 75.07 L301.06 75.72 L302.35 76.36 L303.64 76.98 L304.93 77.60 L306.22 78.20 L307.51 78.79 L308.80 79.37 L310.08 79.95 L311.37 80.51 L312.66 81.06 L313.95 81.60 L315.24 82.13 L316.53 82.66 L317.82 83.17 L319.11 83.67 L320.40 84.16 L321.69 84.65 L322.98 85.13 L324.26 85.60 L325.55 86.08 L326.84 86.54 L328.13 87.01 L329.42 87.47 L330.71 87.92 L332.00 88.38 L333.29 88.82 L334.58 89.27 L335.87 89.71 L337.16 90.15 L338.45 90.59 L339.74 91.02 L341.02 91.46 L342.31 91.89 L343.60 92.31 L344.89 92.74 L346.18 93.16 L347.47 93.58 L348.76 94.00 L350.05 94.41 L351.34 94.83 L352.63 95.24 L353.92 95.65 L355.20 96.06 L356.49 96.47 L357.78 96.87 L359.07 97.28 L360.36 97.68 L361.65 98.08 L362.94 98.49 L364.23 98.88 L365.52 99.28 L366.81 99.68 L368.10 100.08 L369.39 100.47 L370.68 100.86 L371.96 101.26 L373.25 101.65 L374.54 102.04 L375.83 102.43 L377.12 102.82 L378.41 103.21 L379.70 103.60 L380.99 103.98 L382.28 104.37 L383.57 104.75 L384.86 105.14 L386.14 105.52 L387.43 105.91 L388.72 106.29 L390.01 106.67 L391.30 107.05 L392.59 107.44 L393.88 107.82 L395.17 108.20 L396.46 108.58 L397.75 108.96 L399.04 109.34 L400.33 109.72 L401.62 110.09 L402.90 110.47 L404.19 110.85 L405.48 111.23 L406.77 111.60 L408.06 111.98 L409.35 112.36" stroke="#ff00ff"/>
<path d="M254.65 23.01 L255.94 25.35 L257.23 27.59 L258.52 29.76 L259.81 31.84 L261.10 33.85 L262.38 35.78 L263.67 37.65 L264.96 39.45 L266.25 41.19 L267.54 42.87 L268.83 44.50 L270.12 46.08 L271.41 47.60 L272.70 49.08 L273.99 50.51 L275.28 51.89 L276.57 53.24 L277.86 54.54 L279.14 55.80 L280.43 57.02 L281.72 58.21 L283.01 59.37 L284.30 60.49 L285.59 61.58 L286.88 62.64 L288.17 63.67 L289.46 64.68 L290.75 65.66 L292.04 66.61 L293.32 67.54 L294.61 68.45 L295.90 69.33 L297.19 70.19 L298.48 71.03 L299.77 71.85 L301.06 72.66 L302.35 73.44 L303.64 74.20 L304.93 74.95 L306.22 75.68 L307.51 76.39 L308.80 77.09 L310.08 77.77 L311.37 78.44 L312.66 79.09 L313.95 79.73 L315.24 80.35 L316.53 80.96 L317.82 81.55 L319.11 82.13 L320.40 82.69 L321.69 83.25 L322.98 83.79 L324.26 84.33 L325.55 84.87 L326.84 85.39 L328.13 85.91 L329.42 86.42 L330.71 86.93 L332.00 87.43 L333.29 87.93 L334.58 88.42 L335.87 88.90 L337.16 89.38 L338.45 89.86 L339.74 90.33 L341.02 90.80 L342.31 91.26 L343.60 91.72 L344.89 92.18 L346.18 92.63 L347.47 93.08 L348.76 93.52 L350.05 93.97 L351.34 94.41 L352.63 94.84 L353.92 95.28 L355.20 95.71 L356.49 96.14 L357.78 96.57 L359.07 96.99 L360.36 97.41 L361.65 97.83 L362.94 98.25 L364.23 98.67 L365.52 99.08 L366.81 99.49 L368.10 99.90 L369.39 100.31 L370.68 100.72 L371.96 101.13 L373.25 101.53 L374.54 101.94 L375.83 102.34 L377.12 102.74 L378.41 103.14 L379.70 103.54 L380.99 103.93 L382.28 104.33 L383.57 104.72 L384.86 105.12 L386.14 105.51 L387.43 105.90 L388.72 106.29 L390.01 106.68 L391.30 107.07 L392.59 107.46 L393.88 107.85 L395.17 108.23 L396.46 108.62 L397.75 109.01 L399.04 109.39 L400.33 109.78 L401.62 110.16 L402.90 110.54 L404.19 110.92 L405.48 111.31 L406.77 111.69 L408.06 112.07 L409.35 112.45" stroke="#000000"/>
</g>
<path d="M248.85 18.15 H412.45 V119.2" fill="none" stroke="#333" stroke-width="1.5" stroke-linecap="square"/>
<path d="M248.85 18.15 V119.2 H412.45" fill="none" stroke="#262626" stroke-width="1.6" stroke-linecap="square"/>
<path d="M254.65 119.2 v-2.2" stroke="#262626" stroke-width="1"/>
<path d="M308.72 119.2 v-2.2" stroke="#262626" stroke-width="1"/>
<path d="M332.00 119.2 v-2.2" stroke="#262626" stroke-width="1"/>
<path d="M386.07 119.2 v-2.2" stroke="#262626" stroke-width="1"/>
<path d="M409.35 119.2 v-2.2" stroke="#262626" stroke-width="1"/>
</g>
<g>
<clipPath id="cp3"><rect x="48.95" y="174.05" width="163.9" height="100.55"/></clipPath>
<g clip-path="url(#cp3)" fill="none" stroke-width="1.4" stroke-linejoin="round" stroke-linecap="square">
<path d="M52.30 213.54 L53.09 213.36 L53.87 213.17 L54.66 212.98 L55.45 212.79 L56.23 212.59 L57.02 212.40 L57.81 212.20 L58.60 212.00 L59.38 211.80 L60.17 211.60 L60.96 211.39 L61.74 211.18 L62.53 210.98 L63.32 210.76 L64.11 210.55 L64.89 210.33 L65.68 210.12 L66.47 209.89 L67.25 209.67 L68.04 209.45 L68.83 209.22 L69.61 208.99 L70.40 208.75 L71.19 208.52 L71.97 208.28 L72.76 208.04 L73.55 207.79 L74.34 207.55 L75.12 207.30 L75.91 207.04 L76.70 206.79 L77.48 206.53 L78.27 206.26 L79.06 206.00 L79.84 205.72 L80.63 205.45 L81.42 205.17 L82.21 204.89 L82.99 204.61 L83.78 204.32 L84.57 204.02 L85.35 203.73 L86.14 203.42 L86.93 203.12 L87.72 202.80 L88.50 202.49 L89.29 202.17 L90.08 201.84 L90.86 201.51 L91.65 201.17 L92.44 200.83 L93.22 200.48 L94.01 200.13 L94.80 199.77 L95.59 199.40 L96.37 199.02 L97.16 198.64 L97.95 198.26 L98.73 197.86 L99.52 197.46 L100.31 197.05 L101.09 196.63 L101.88 196.21 L102.67 195.77 L103.45 195.33 L104.24 194.87 L105.03 194.41 L105.82 193.94 L106.60 193.46 L107.39 192.97 L108.18 192.47 L108.96 191.96 L109.75 191.44 L110.54 190.91 L111.33 190.36 L112.11 189.81 L112.90 189.25 L113.69 188.68 L114.47 188.11 L115.26 187.52 L116.05 186.93 L116.83 186.34 L117.62 185.74 L118.41 185.14 L119.19 184.54 L119.98 183.95 L120.77 183.37 L121.56 182.80 L122.34 182.25 L123.13 181.71 L123.92 181.21 L124.70 180.73 L125.49 180.30 L126.28 179.91 L127.07 179.57 L127.85 179.28 L128.64 179.05 L129.43 178.88 L130.21 178.78 L131.00 178.75 L131.79 178.78 L132.57 178.88 L133.36 179.05 L134.15 179.28 L134.94 179.57 L135.72 179.91 L136.51 180.30 L137.30 180.73 L138.08 181.21 L138.87 181.71 L139.66 182.25 L140.44 182.80 L141.23 183.37 L142.02 183.95 L142.81 184.54 L143.59 185.14 L144.38 185.74 L145.17 186.34 L145.95 186.93 L146.74 187.52 L147.53 188.11 L148.31 188.68 L149.10 189.25 L149.89 189.81 L150.68 190.36 L151.46 190.91 L152.25 191.44 L153.04 191.96 L153.82 192.47 L154.61 192.97 L155.40 193.46 L156.18 193.94 L156.97 194.41 L157.76 194.87 L158.55 195.33 L159.33 195.77 L160.12 196.21 L160.91 196.63 L161.69 197.05 L162.48 197.46 L163.27 197.86 L164.05 198.26 L164.84 198.64 L165.63 199.02 L166.41 199.40 L167.20 199.77 L167.99 200.13 L168.78 200.48 L169.56 200.83 L170.35 201.17 L171.14 201.51 L171.92 201.84 L172.71 202.17 L173.50 202.49 L174.28 202.80 L175.07 203.12 L175.86 203.42 L176.65 203.73 L177.43 204.02 L178.22 204.32 L179.01 204.61 L179.79 204.89 L180.58 205.17 L181.37 205.45 L182.16 205.72 L182.94 206.00 L183.73 206.26 L184.52 206.53 L185.30 206.79 L186.09 207.04 L186.88 207.30 L187.66 207.55 L188.45 207.79 L189.24 208.04 L190.03 208.28 L190.81 208.52 L191.60 208.75 L192.39 208.99 L193.17 209.22 L193.96 209.45 L194.75 209.67 L195.53 209.89 L196.32 210.12 L197.11 210.33 L197.90 210.55 L198.68 210.76 L199.47 210.98 L200.26 211.18 L201.04 211.39 L201.83 211.60 L202.62 211.80 L203.40 212.00 L204.19 212.20 L204.98 212.40 L205.76 212.59 L206.55 212.79 L207.34 212.98 L208.13 213.17 L208.91 213.36 L209.70 213.54" stroke="#ff0000"/>
<path d="M52.30 235.39 L53.09 235.20 L53.87 235.01 L54.66 234.81 L55.45 234.61 L56.23 234.41 L57.02 234.21 L57.81 234.01 L58.60 233.80 L59.38 233.60 L60.17 233.39 L60.96 233.18 L61.74 232.96 L62.53 232.75 L63.32 232.53 L64.11 232.31 L64.89 232.08 L65.68 231.86 L66.47 231.63 L67.25 231.40 L68.04 231.16 L68.83 230.93 L69.61 230.69 L70.40 230.45 L71.19 230.20 L71.97 229.96 L72.76 229.71 L73.55 229.45 L74.34 229.19 L75.12 228.93 L75.91 228.67 L76.70 228.40 L77.48 228.13 L78.27 227.86 L79.06 227.58 L79.84 227.30 L80.63 227.01 L81.42 226.72 L82.21 226.43 L82.99 226.13 L83.78 225.83 L84.57 225.52 L85.35 225.21 L86.14 224.89 L86.93 224.57 L87.72 224.24 L88.50 223.91 L89.29 223.58 L90.08 223.23 L90.86 222.88 L91.65 222.53 L92.44 222.17 L93.22 221.80 L94.01 221.42 L94.80 221.04 L95.59 220.66 L96.37 220.26 L97.16 219.86 L97.95 219.44 L98.73 219.03 L99.52 218.60 L100.31 218.16 L101.09 217.71 L101.88 217.26 L102.67 216.79 L103.45 216.32 L104.24 215.83 L105.03 215.34 L105.82 214.83 L106.60 214.31 L107.39 213.79 L108.18 213.24 L108.96 212.69 L109.75 212.13 L110.54 211.55 L111.33 210.96 L112.11 210.36 L112.90 209.75 L113.69 209.13 L114.47 208.50 L115.26 207.86 L116.05 207.21 L116.83 206.56 L117.62 205.90 L118.41 205.24 L119.19 204.58 L119.98 203.92 L120.77 203.28 L121.56 202.64 L122.34 202.03 L123.13 201.43 L123.92 200.87 L124.70 200.34 L125.49 199.85 L126.28 199.41 L127.07 199.03 L127.85 198.70 L128.64 198.45 L129.43 198.26 L130.21 198.15 L131.00 198.11 L131.79 198.15 L132.57 198.26 L133.36 198.45 L134.15 198.70 L134.94 199.03 L135.72 199.41 L136.51 199.85 L137.30 200.34 L138.08 200.87 L138.87 201.43 L139.66 202.03 L140.44 202.64 L141.23 203.28 L142.02 203.92 L142.81 204.58 L143.59 205.24 L144.38 205.90 L145.17 206.56 L145.95 207.21 L146.74 207.86 L147.53 208.50 L148.31 209.13 L149.10 209.75 L149.89 210.36 L150.68 210.96 L151.46 211.55 L152.25 212.13 L153.04 212.69 L153.82 213.24 L154.61 213.79 L155.40 214.31 L156.18 214.83 L156.97 215.34 L157.76 215.83 L158.55 216.32 L159.33 216.79 L160.12 217.26 L160.91 217.71 L161.69 218.16 L162.48 218.60 L163.27 219.03 L164.05 219.44 L164.84 219.86 L165.63 220.26 L166.41 220.66 L167.20 221.04 L167.99 221.42 L168.78 221.80 L169.56 222.17 L170.35 222.53 L171.14 222.88 L171.92 223.23 L172.71 223.58 L173.50 223.91 L174.28 224.24 L175.07 224.57 L175.86 224.89 L176.65 225.21 L177.43 225.52 L178.22 225.83 L179.01 226.13 L179.79 226.43 L180.58 226.72 L181.37 227.01 L182.16 227.30 L182.94 227.58 L183.73 227.86 L184.52 228.13 L185.30 228.40 L186.09 228.67 L186.88 228.93 L187.66 229.19 L188.45 229.45 L189.24 229.71 L190.03 229.96 L190.81 230.20 L191.60 230.45 L192.39 230.69 L193.17 230.93 L193.96 231.16 L194.75 231.40 L195.53 231.63 L196.32 231.86 L197.11 232.08 L197.90 232.31 L198.68 232.53 L199.47 232.75 L200.26 232.96 L201.04 233.18 L201.83 233.39 L202.62 233.60 L203.40 233.80 L204.19 234.01 L204.98 234.21 L205.76 234.41 L206.55 234.61 L207.34 234.81 L208.13 235.01 L208.91 235.20 L209.70 235.39" stroke="#00ff00"/>
<path d="M52.30 249.32 L53.09 249.12 L53.87 248.93 L54.66 248.73 L55.45 248.53 L56.23 248.33 L57.02 248.13 L57.81 247.92 L58.60 247.71 L59.38 247.50 L60.17 247.29 L60.96 247.08 L61.74 246.86 L62.53 246.64 L63.32 246.42 L64.11 246.20 L64.89 245.97 L65.68 245.74 L66.47 245.51 L67.25 245.28 L68.04 245.04 L68.83 244.80 L69.61 244.56 L70.40 244.31 L71.19 244.07 L71.97 243.81 L72.76 243.56 L73.55 243.30 L74.34 243.04 L75.12 242.78 L75.91 242.51 L76.70 242.24 L77.48 241.96 L78.27 241.69 L79.06 241.40 L79.84 241.12 L80.63 240.83 L81.42 240.53 L82.21 240.23 L82.99 239.93 L83.78 239.62 L84.57 239.31 L85.35 238.99 L86.14 238.67 L86.93 238.34 L87.72 238.01 L88.50 237.67 L89.29 237.33 L90.08 236.98 L90.86 236.62 L91.65 236.26 L92.44 235.89 L93.22 235.51 L94.01 235.13 L94.80 234.74 L95.59 234.35 L96.37 233.94 L97.16 233.53 L97.95 233.11 L98.73 232.68 L99.52 232.24 L100.31 231.79 L101.09 231.34 L101.88 230.87 L102.67 230.39 L103.45 229.91 L104.24 229.41 L105.03 228.90 L105.82 228.38 L106.60 227.85 L107.39 227.31 L108.18 226.76 L108.96 226.19 L109.75 225.61 L110.54 225.02 L111.33 224.42 L112.11 223.81 L112.90 223.19 L113.69 222.55 L114.47 221.91 L115.26 221.26 L116.05 220.60 L116.83 219.93 L117.62 219.27 L118.41 218.60 L119.19 217.93 L119.98 217.27 L120.77 216.62 L121.56 215.98 L122.34 215.37 L123.13 214.77 L123.92 214.21 L124.70 213.68 L125.49 213.20 L126.28 212.76 L127.07 212.38 L127.85 212.06 L128.64 211.81 L129.43 211.62 L130.21 211.51 L131.00 211.47 L131.79 211.51 L132.57 211.62 L133.36 211.81 L134.15 212.06 L134.94 212.38 L135.72 212.76 L136.51 213.20 L137.30 213.68 L138.08 214.21 L138.87 214.77 L139.66 215.37 L140.44 215.98 L141.23 216.62 L142.02 217.27 L142.81 217.93 L143.59 218.60 L144.38 219.27 L145.17 219.93 L145.95 220.60 L146.74 221.26 L147.53 221.91 L148.31 222.55 L149.10 223.19 L149.89 223.81 L150.68 224.42 L151.46 225.02 L152.25 225.61 L153.04 226.19 L153.82 226.76 L154.61 227.31 L155.40 227.85 L156.18 228.38 L156.97 228.90 L157.76 229.41 L158.55 229.91 L159.33 230.39 L160.12 230.87 L160.91 231.34 L161.69 231.79 L162.48 232.24 L163.27 232.68 L164.05 233.11 L164.84 233.53 L165.63 233.94 L166.41 234.35 L167.20 234.74 L167.99 235.13 L168.78 235.51 L169.56 235.89 L170.35 236.26 L171.14 236.62 L171.92 236.98 L172.71 237.33 L173.50 237.67 L174.28 238.01 L175.07 238.34 L175.86 238.67 L176.65 238.99 L177.43 239.31 L178.22 239.62 L179.01 239.93 L179.79 240.23 L180.58 240.53 L181.37 240.83 L182.16 241.12 L182.94 241.40 L183.73 241.69 L184.52 241.96 L185.30 242.24 L186.09 242.51 L186.88 242.78 L187.66 243.04 L188.45 243.30 L189.24 243.56 L190.03 243.81 L190.81 244.07 L191.60 244.31 L192.39 244.56 L193.17 244.80 L193.96 245.04 L194.75 245.28 L195.53 245.51 L196.32 245.74 L197.11 245.97 L197.90 246.20 L198.68 246.42 L199.47 246.64 L200.26 246.86 L201.04 247.08 L201.83 247.29 L202.62 247.50 L203.40 247.71 L204.19 247.92 L204.98 248.13 L205.76 248.33 L206.55 248.53 L207.34 248.73 L208.13 248.93 L208.91 249.12 L209.70 249.32" stroke="#0000ff"/>
<path d="M52.30 259.65 L53.09 259.46 L53.87 259.26 L54.66 259.06 L55.45 258.86 L56.23 258.66 L57.02 258.46 L57.81 258.25 L58.60 258.04 L59.38 257.83 L60.17 257.62 L60.96 257.40 L61.74 257.18 L62.53 256.96 L63.32 256.74 L64.11 256.52 L64.89 256.29 L65.68 256.06 L66.47 255.83 L67.25 255.59 L68.04 255.35 L68.83 255.11 L69.61 254.87 L70.40 254.62 L71.19 254.37 L71.97 254.12 L72.76 253.87 L73.55 253.61 L74.34 253.35 L75.12 253.08 L75.91 252.81 L76.70 252.54 L77.48 252.26 L78.27 251.98 L79.06 251.70 L79.84 251.41 L80.63 251.12 L81.42 250.82 L82.21 250.52 L82.99 250.21 L83.78 249.90 L84.57 249.59 L85.35 249.27 L86.14 248.94 L86.93 248.61 L87.72 248.28 L88.50 247.94 L89.29 247.59 L90.08 247.24 L90.86 246.88 L91.65 246.51 L92.44 246.14 L93.22 245.76 L94.01 245.38 L94.80 244.99 L95.59 244.59 L96.37 244.18 L97.16 243.76 L97.95 243.34 L98.73 242.91 L99.52 242.46 L100.31 242.01 L101.09 241.55 L101.88 241.09 L102.67 240.61 L103.45 240.12 L104.24 239.62 L105.03 239.11 L105.82 238.59 L106.60 238.05 L107.39 237.51 L108.18 236.96 L108.96 236.39 L109.75 235.81 L110.54 235.22 L111.33 234.63 L112.11 234.02 L112.90 233.40 L113.69 232.77 L114.47 232.13 L115.26 231.49 L116.05 230.84 L116.83 230.19 L117.62 229.53 L118.41 228.88 L119.19 228.23 L119.98 227.58 L120.77 226.95 L121.56 226.33 L122.34 225.73 L123.13 225.16 L123.92 224.62 L124.70 224.11 L125.49 223.64 L126.28 223.22 L127.07 222.85 L127.85 222.54 L128.64 222.30 L129.43 222.12 L130.21 222.01 L131.00 221.98 L131.79 222.01 L132.57 222.12 L133.36 222.30 L134.15 222.54 L134.94 222.85 L135.72 223.22 L136.51 223.64 L137.30 224.11 L138.08 224.62 L138.87 225.16 L139.66 225.73 L140.44 226.33 L141.23 226.95 L142.02 227.58 L142.81 228.23 L143.59 228.88 L144.38 229.53 L145.17 230.19 L145.95 230.84 L146.74 231.49 L147.53 232.13 L148.31 232.77 L149.10 233.40 L149.89 234.02 L150.68 234.63 L151.46 235.22 L152.25 235.81 L153.04 236.39 L153.82 236.96 L154.61 237.51 L155.40 238.05 L156.18 238.59 L156.97 239.11 L157.76 239.62 L158.55 240.12 L159.33 240.61 L160.12 241.09 L160.91 241.55 L161.69 242.01 L162.48 242.46 L163.27 242.91 L164.05 243.34 L164.84 243.76 L165.63 244.18 L166.41 244.59 L167.20 244.99 L167.99 245.38 L168.78 245.76 L169.56 246.14 L170.35 246.51 L171.14 246.88 L171.92 247.24 L172.71 247.59 L173.50 247.94 L174.28 248.28 L175.07 248.61 L175.86 248.94 L176.65 249.27 L177.43 249.59 L178.22 249.90 L179.01 250.21 L179.79 250.52 L180.58 250.82 L181.37 251.12 L182.16 251.41 L182.94 251.70 L183.73 251.98 L184.52 252.26 L185.30 252.54 L186.09 252.81 L186.88 253.08 L187.66 253.35 L188.45 253.61 L189.24 253.87 L190.03 254.12 L190.81 254.37 L191.60 254.62 L192.39 254.87 L193.17 255.11 L193.96 255.35 L194.75 255.59 L195.53 255.83 L196.32 256.06 L197.11 256.29 L197.90 256.52 L198.68 256.74 L199.47 256.96 L200.26 257.18 L201.04 257.40 L201.83 257.62 L202.62 257.83 L203.40 258.04 L204.19 258.25 L204.98 258.46 L205.76 258.66 L206.55 258.86 L207.34 259.06 L208.13 259.26 L208.91 259.46 L209.70 259.65" stroke="#ff00ff"/>
<path d="M52.30 267.89 L53.09 267.70 L53.87 267.50 L54.66 267.30 L55.45 267.10 L56.23 266.90 L57.02 266.69 L57.81 266.49 L58.60 266.28 L59.38 266.07 L60.17 265.85 L60.96 265.64 L61.74 265.42 L62.53 265.20 L63.32 264.98 L64.11 264.75 L64.89 264.52 L65.68 264.29 L66.47 264.06 L67.25 263.82 L68.04 263.59 L68.83 263.34 L69.61 263.10 L70.40 262.85 L71.19 262.60 L71.97 262.35 L72.76 262.09 L73.55 261.83 L74.34 261.57 L75.12 261.30 L75.91 261.03 L76.70 260.76 L77.48 260.48 L78.27 260.20 L79.06 259.92 L79.84 259.63 L80.63 259.34 L81.42 259.04 L82.21 258.74 L82.99 258.43 L83.78 258.12 L84.57 257.80 L85.35 257.48 L86.14 257.16 L86.93 256.83 L87.72 256.49 L88.50 256.15 L89.29 255.80 L90.08 255.45 L90.86 255.09 L91.65 254.72 L92.44 254.35 L93.22 253.97 L94.01 253.58 L94.80 253.19 L95.59 252.79 L96.37 252.38 L97.16 251.97 L97.95 251.54 L98.73 251.11 L99.52 250.67 L100.31 250.22 L101.09 249.76 L101.88 249.29 L102.67 248.81 L103.45 248.33 L104.24 247.83 L105.03 247.32 L105.82 246.81 L106.60 246.28 L107.39 245.74 L108.18 245.19 L108.96 244.63 L109.75 244.06 L110.54 243.48 L111.33 242.90 L112.11 242.30 L112.90 241.69 L113.69 241.08 L114.47 240.46 L115.26 239.83 L116.05 239.20 L116.83 238.56 L117.62 237.92 L118.41 237.29 L119.19 236.66 L119.98 236.03 L120.77 235.42 L121.56 234.82 L122.34 234.24 L123.13 233.68 L123.92 233.16 L124.70 232.67 L125.49 232.21 L126.28 231.81 L127.07 231.45 L127.85 231.15 L128.64 230.91 L129.43 230.74 L130.21 230.64 L131.00 230.60 L131.79 230.64 L132.57 230.74 L133.36 230.91 L134.15 231.15 L134.94 231.45 L135.72 231.81 L136.51 232.21 L137.30 232.67 L138.08 233.16 L138.87 233.68 L139.66 234.24 L140.44 234.82 L141.23 235.42 L142.02 236.03 L142.81 236.66 L143.59 237.29 L144.38 237.92 L145.17 238.56 L145.95 239.20 L146.74 239.83 L147.53 240.46 L148.31 241.08 L149.10 241.69 L149.89 242.30 L150.68 242.90 L151.46 243.48 L152.25 244.06 L153.04 244.63 L153.82 245.19 L154.61 245.74 L155.40 246.28 L156.18 246.81 L156.97 247.32 L157.76 247.83 L158.55 248.33 L159.33 248.81 L160.12 249.29 L160.91 249.76 L161.69 250.22 L162.48 250.67 L163.27 251.11 L164.05 251.54 L164.84 251.97 L165.63 252.38 L166.41 252.79 L167.20 253.19 L167.99 253.58 L168.78 253.97 L169.56 254.35 L170.35 254.72 L171.14 255.09 L171.92 255.45 L172.71 255.80 L173.50 256.15 L174.28 256.49 L175.07 256.83 L175.86 257.16 L176.65 257.48 L177.43 257.80 L178.22 258.12 L179.01 258.43 L179.79 258.74 L180.58 259.04 L181.37 259.34 L182.16 259.63 L182.94 259.92 L183.73 260.20 L184.52 260.48 L185.30 260.76 L186.09 261.03 L186.88 261.30 L187.66 261.57 L188.45 261.83 L189.24 262.09 L190.03 262.35 L190.81 262.60 L191.60 262.85 L192.39 263.10 L193.17 263.34 L193.96 263.59 L194.75 263.82 L195.53 264.06 L196.32 264.29 L197.11 264.52 L197.90 264.75 L198.68 264.98 L199.47 265.20 L200.26 265.42 L201.04 265.64 L201.83 265.85 L202.62 266.07 L203.40 266.28 L204.19 266.49 L204.98 266.69 L205.76 266.90 L206.55 267.10 L207.34 267.30 L208.13 267.50 L208.91 267.70 L209.70 267.89" stroke="#000000"/>
</g>
<path d="M48.95 174.05 H212.85 V274.6" fill="none" stroke="#333" stroke-width="1.5" stroke-linecap="square"/>
<path d="M48.95 174.05 V274.6 H212.85" fill="none" stroke="#262626" stroke-width="1.6" stroke-linecap="square"/>
<path d="M52.30 274.6 v-2.2" stroke="#262626" stroke-width="1"/>
<path d="M91.65 274.6 v-2.2" stroke="#262626" stroke-width="1"/>
<path d="M131.00 274.6 v-2.2" stroke="#262626" stroke-width="1"/>
<path d="M170.35 274.6 v-2.2" stroke="#262626" stroke-width="1"/>
<path d="M209.70 274.6 v-2.2" stroke="#262626" stroke-width="1"/>
</g>
<g>
<clipPath id="cp4"><rect x="248.85" y="174.05" width="163.6" height="100.55"/></clipPath>
<g clip-path="url(#cp4)" fill="none" stroke-width="1.4" stroke-linejoin="round" stroke-linecap="square">
<path d="M254.65 178.66 L255.94 179.13 L257.23 179.60 L258.52 180.07 L259.81 180.54 L261.10 181.02 L262.38 181.49 L263.67 181.96 L264.96 182.43 L266.25 182.90 L267.54 183.37 L268.83 183.85 L270.12 184.32 L271.41 184.79 L272.70 185.26 L273.99 185.73 L275.28 186.20 L276.57 186.68 L277.86 187.15 L279.14 187.62 L280.43 188.09 L281.72 188.56 L283.01 189.03 L284.30 189.51 L285.59 189.98 L286.88 190.45 L288.17 190.92 L289.46 191.39 L290.75 191.86 L292.04 192.34 L293.32 192.81 L294.61 193.28 L295.90 193.75 L297.19 194.22 L298.48 194.69 L299.77 195.17 L301.06 195.64 L302.35 196.11 L303.64 196.58 L304.93 197.05 L306.22 197.52 L307.51 198.00 L308.80 198.47 L310.08 198.94 L311.37 199.41 L312.66 199.88 L313.95 200.35 L315.24 200.83 L316.53 201.30 L317.82 201.77 L319.11 202.24 L320.40 202.71 L321.69 203.18 L322.98 203.66 L324.26 204.13 L325.55 204.60 L326.84 205.07 L328.13 205.54 L329.42 206.01 L330.71 206.49 L332.00 206.96 L333.29 207.43 L334.58 207.90 L335.87 208.37 L337.16 208.84 L338.45 209.32 L339.74 209.79 L341.02 210.26 L342.31 210.73 L343.60 211.20 L344.89 211.67 L346.18 212.15 L347.47 212.62 L348.76 213.09 L350.05 213.56 L351.34 214.03 L352.63 214.50 L353.92 214.98 L355.20 215.45 L356.49 215.92 L357.78 216.39 L359.07 216.86 L360.36 217.33 L361.65 217.81 L362.94 218.28 L364.23 218.75 L365.52 219.22 L366.81 219.69 L368.10 220.16 L369.39 220.64 L370.68 221.11 L371.96 221.58 L373.25 222.05 L374.54 222.52 L375.83 222.99 L377.12 223.47 L378.41 223.94 L379.70 224.41 L380.99 224.88 L382.28 225.35 L383.57 225.82 L384.86 226.30 L386.14 226.77 L387.43 227.24 L388.72 227.71 L390.01 228.18 L391.30 228.65 L392.59 229.13 L393.88 229.60 L395.17 230.07 L396.46 230.54 L397.75 231.01 L399.04 231.48 L400.33 231.96 L401.62 232.43 L402.90 232.90 L404.19 233.37 L405.48 233.84 L406.77 234.31 L408.06 234.79 L409.35 235.26" stroke="#ff0000"/>
<path d="M254.65 190.32 L255.94 190.85 L257.23 191.38 L258.52 191.91 L259.81 192.44 L261.10 192.96 L262.38 193.49 L263.67 194.01 L264.96 194.53 L266.25 195.05 L267.54 195.57 L268.83 196.09 L270.12 196.60 L271.41 197.12 L272.70 197.63 L273.99 198.14 L275.28 198.65 L276.57 199.16 L277.86 199.67 L279.14 200.18 L280.43 200.68 L281.72 201.19 L283.01 201.69 L284.30 202.19 L285.59 202.69 L286.88 203.19 L288.17 203.69 L289.46 204.19 L290.75 204.69 L292.04 205.18 L293.32 205.68 L294.61 206.18 L295.90 206.67 L297.19 207.16 L298.48 207.65 L299.77 208.15 L301.06 208.64 L302.35 209.13 L303.64 209.62 L304.93 210.11 L306.22 210.59 L307.51 211.08 L308.80 211.57 L310.08 212.05 L311.37 212.54 L312.66 213.03 L313.95 213.51 L315.24 214.00 L316.53 214.48 L317.82 214.96 L319.11 215.45 L320.40 215.93 L321.69 216.41 L322.98 216.89 L324.26 217.37 L325.55 217.86 L326.84 218.34 L328.13 218.82 L329.42 219.30 L330.71 219.78 L332.00 220.26 L333.29 220.74 L334.58 221.22 L335.87 221.69 L337.16 222.17 L338.45 222.65 L339.74 223.13 L341.02 223.61 L342.31 224.08 L343.60 224.56 L344.89 225.04 L346.18 225.51 L347.47 225.99 L348.76 226.47 L350.05 226.94 L351.34 227.42 L352.63 227.90 L353.92 228.37 L355.20 228.85 L356.49 229.32 L357.78 229.80 L359.07 230.27 L360.36 230.75 L361.65 231.22 L362.94 231.70 L364.23 232.17 L365.52 232.65 L366.81 233.12 L368.10 233.60 L369.39 234.07 L370.68 234.55 L371.96 235.02 L373.25 235.49 L374.54 235.97 L375.83 236.44 L377.12 236.91 L378.41 237.39 L379.70 237.86 L380.99 238.34 L382.28 238.81 L383.57 239.28 L384.86 239.76 L386.14 240.23 L387.43 240.70 L388.72 241.18 L390.01 241.65 L391.30 242.12 L392.59 242.59 L393.88 243.07 L395.17 243.54 L396.46 244.01 L397.75 244.49 L399.04 244.96 L400.33 245.43 L401.62 245.90 L402.90 246.38 L404.19 246.85 L405.48 247.32 L406.77 247.79 L408.06 248.27 L409.35 248.74" stroke="#00ff00"/>
<path d="M254.65 198.36 L255.94 198.89 L257.23 199.42 L258.52 199.95 L259.81 200.48 L261.10 201.01 L262.38 201.54 L263.67 202.07 L264.96 202.59 L266.25 203.12 L267.54 203.64 L268.83 204.17 L270.12 204.69 L271.41 205.21 L272.70 205.74 L273.99 206.26 L275.28 206.77 L276.57 207.29 L277.86 207.81 L279.14 208.33 L280.43 208.84 L281.72 209.35 L283.01 209.87 L284.30 210.38 L285.59 210.89 L286.88 211.40 L288.17 211.90 L289.46 212.41 L290.75 212.92 L292.04 213.42 L293.32 213.93 L294.61 214.43 L295.90 214.93 L297.19 215.43 L298.48 215.93 L299.77 216.43 L301.06 216.93 L302.35 217.43 L303.64 217.92 L304.93 218.42 L306.22 218.92 L307.51 219.41 L308.80 219.90 L310.08 220.40 L311.37 220.89 L312.66 221.38 L313.95 221.87 L315.24 222.36 L316.53 222.85 L317.82 223.34 L319.11 223.83 L320.40 224.31 L321.69 224.80 L322.98 225.29 L324.26 225.77 L325.55 226.26 L326.84 226.74 L328.13 227.23 L329.42 227.71 L330.71 228.20 L332.00 228.68 L333.29 229.16 L334.58 229.64 L335.87 230.13 L337.16 230.61 L338.45 231.09 L339.74 231.57 L341.02 232.05 L342.31 232.53 L343.60 233.01 L344.89 233.49 L346.18 233.97 L347.47 234.45 L348.76 234.93 L350.05 235.41 L351.34 235.88 L352.63 236.36 L353.92 236.84 L355.20 237.32 L356.49 237.79 L357.78 238.27 L359.07 238.75 L360.36 239.22 L361.65 239.70 L362.94 240.18 L364.23 240.65 L365.52 241.13 L366.81 241.61 L368.10 242.08 L369.39 242.56 L370.68 243.03 L371.96 243.51 L373.25 243.98 L374.54 244.46 L375.83 244.93 L377.12 245.41 L378.41 245.88 L379.70 246.36 L380.99 246.83 L382.28 247.31 L383.57 247.78 L384.86 248.25 L386.14 248.73 L387.43 249.20 L388.72 249.68 L390.01 250.15 L391.30 250.62 L392.59 251.10 L393.88 251.57 L395.17 252.04 L396.46 252.52 L397.75 252.99 L399.04 253.46 L400.33 253.94 L401.62 254.41 L402.90 254.88 L404.19 255.36 L405.48 255.83 L406.77 256.30 L408.06 256.78 L409.35 257.25" stroke="#0000ff"/>
<path d="M254.65 204.69 L255.94 205.20 L257.23 205.71 L258.52 206.22 L259.81 206.74 L261.10 207.25 L262.38 207.77 L263.67 208.28 L264.96 208.80 L266.25 209.32 L267.54 209.83 L268.83 210.35 L270.12 210.87 L271.41 211.38 L272.70 211.90 L273.99 212.41 L275.28 212.93 L276.57 213.44 L277.86 213.96 L279.14 214.47 L280.43 214.99 L281.72 215.50 L283.01 216.01 L284.30 216.52 L285.59 217.03 L286.88 217.54 L288.17 218.05 L289.46 218.56 L290.75 219.07 L292.04 219.58 L293.32 220.08 L294.61 220.59 L295.90 221.09 L297.19 221.59 L298.48 222.10 L299.77 222.60 L301.06 223.10 L302.35 223.60 L303.64 224.10 L304.93 224.60 L306.22 225.09 L307.51 225.59 L308.80 226.09 L310.08 226.58 L311.37 227.08 L312.66 227.57 L313.95 228.06 L315.24 228.56 L316.53 229.05 L317.82 229.54 L319.11 230.03 L320.40 230.52 L321.69 231.01 L322.98 231.50 L324.26 231.98 L325.55 232.47 L326.84 232.96 L328.13 233.45 L329.42 233.93 L330.71 234.42 L332.00 234.90 L333.29 235.39 L334.58 235.87 L335.87 236.35 L337.16 236.84 L338.45 237.32 L339.74 237.80 L341.02 238.28 L342.31 238.77 L343.60 239.25 L344.89 239.73 L346.18 240.21 L347.47 240.69 L348.76 241.17 L350.05 241.65 L351.34 242.13 L352.63 242.61 L353.92 243.09 L355.20 243.57 L356.49 244.04 L357.78 244.52 L359.07 245.00 L360.36 245.48 L361.65 245.96 L362.94 246.43 L364.23 246.91 L365.52 247.39 L366.81 247.86 L368.10 248.34 L369.39 248.82 L370.68 249.29 L371.96 249.77 L373.25 250.24 L374.54 250.72 L375.83 251.20 L377.12 251.67 L378.41 252.15 L379.70 252.62 L380.99 253.10 L382.28 253.57 L383.57 254.05 L384.86 254.52 L386.14 254.99 L387.43 255.47 L388.72 255.94 L390.01 256.42 L391.30 256.89 L392.59 257.37 L393.88 257.84 L395.17 258.31 L396.46 258.79 L397.75 259.26 L399.04 259.73 L400.33 260.21 L401.62 260.68 L402.90 261.15 L404.19 261.63 L405.48 262.10 L406.77 262.57 L408.06 263.05 L409.35 263.52" stroke="#ff00ff"/>
<path d="M254.65 209.88 L255.94 210.38 L257.23 210.87 L258.52 211.37 L259.81 211.87 L261.10 212.36 L262.38 212.87 L263.67 213.37 L264.96 213.87 L266.25 214.37 L267.54 214.88 L268.83 215.38 L270.12 215.89 L271.41 216.40 L272.70 216.90 L273.99 217.41 L275.28 217.92 L276.57 218.43 L277.86 218.93 L279.14 219.44 L280.43 219.95 L281.72 220.46 L283.01 220.97 L284.30 221.47 L285.59 221.98 L286.88 222.49 L288.17 222.99 L289.46 223.50 L290.75 224.01 L292.04 224.51 L293.32 225.02 L294.61 225.52 L295.90 226.02 L297.19 226.53 L298.48 227.03 L299.77 227.53 L301.06 228.03 L302.35 228.53 L303.64 229.03 L304.93 229.53 L306.22 230.03 L307.51 230.52 L308.80 231.02 L310.08 231.52 L311.37 232.01 L312.66 232.51 L313.95 233.00 L315.24 233.49 L316.53 233.99 L317.82 234.48 L319.11 234.97 L320.40 235.46 L321.69 235.95 L322.98 236.44 L324.26 236.93 L325.55 237.42 L326.84 237.91 L328.13 238.39 L329.42 238.88 L330.71 239.37 L332.00 239.85 L333.29 240.34 L334.58 240.82 L335.87 241.31 L337.16 241.79 L338.45 242.28 L339.74 242.76 L341.02 243.24 L342.31 243.72 L343.60 244.21 L344.89 244.69 L346.18 245.17 L347.47 245.65 L348.76 246.13 L350.05 246.61 L351.34 247.09 L352.63 247.57 L353.92 248.05 L355.20 248.53 L356.49 249.01 L357.78 249.49 L359.07 249.97 L360.36 250.45 L361.65 250.92 L362.94 251.40 L364.23 251.88 L365.52 252.36 L366.81 252.83 L368.10 253.31 L369.39 253.79 L370.68 254.26 L371.96 254.74 L373.25 255.22 L374.54 255.69 L375.83 256.17 L377.12 256.64 L378.41 257.12 L379.70 257.59 L380.99 258.07 L382.28 258.55 L383.57 259.02 L384.86 259.50 L386.14 259.97 L387.43 260.44 L388.72 260.92 L390.01 261.39 L391.30 261.87 L392.59 262.34 L393.88 262.82 L395.17 263.29 L396.46 263.76 L397.75 264.24 L399.04 264.71 L400.33 265.19 L401.62 265.66 L402.90 266.13 L404.19 266.61 L405.48 267.08 L406.77 267.55 L408.06 268.03 L409.35 268.50" stroke="#000000"/>
</g>
<path d="M248.85 174.05 H412.45 V274.6" fill="none" stroke="#333" stroke-width="1.5" stroke-linecap="square"/>
<path d="M248.85 174.05 V274.6 H412.45" fill="none" stroke="#262626" stroke-width="1.6" stroke-linecap="square"/>
<path d="M254.65 274.6 v-2.2" stroke="#262626" stroke-width="1"/>
<path d="M308.72 274.6 v-2.2" stroke="#262626" stroke-width="1"/>
<path d="M332.00 274.6 v-2.2" stroke="#262626" stroke-width="1"/>
<path d="M386.07 274.6 v-2.2" stroke="#262626" stroke-width="1"/>
<path d="M409.35 274.6 v-2.2" stroke="#262626" stroke-width="1"/>
</g>
<path d="M359.1 28.65 h10.8" stroke="#ff0000" stroke-width="1.3"/>
<path d="M359.1 44.45 h10.8" stroke="#00ff00" stroke-width="1.3"/>
<path d="M359.1 60.25 h10.8" stroke="#0000ff" stroke-width="1.3"/>
<path d="M359.1 76.05 h10.8" stroke="#ff00ff" stroke-width="1.3"/>
<path d="M359.1 91.85 h10.8" stroke="#000000" stroke-width="1.3"/>
</svg>
</body></html>
